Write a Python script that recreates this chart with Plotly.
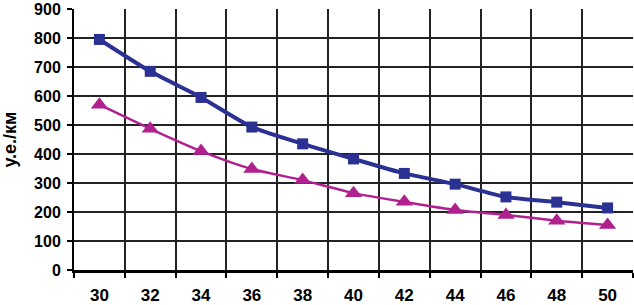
import plotly.graph_objects as go

categories = ["30", "32", "34", "36", "38", "40", "42", "44", "46", "48", "50"]
series_blue = [795, 685, 595, 493, 435, 383, 333, 296, 252, 234, 214]
series_magenta = [570, 487, 410, 348, 310, 265, 235, 207, 190, 170, 155]
y_ticks = [0, 100, 200, 300, 400, 500, 600, 700, 800, 900]

fig = go.Figure()
fig.add_trace(go.Scatter(
    x=categories, y=series_blue, mode="lines+markers",
    line=dict(color="#2B3192", width=4, shape="spline", smoothing=0.6),
    marker=dict(symbol="square", size=11, color="#2B3192"),
))
fig.add_trace(go.Scatter(
    x=categories, y=series_magenta, mode="lines+markers",
    line=dict(color="#B0218F", width=2.5, shape="spline", smoothing=0.6),
    marker=dict(symbol="triangle-up", size=15, color="#B0218F"),
))

FAM = "Liberation Sans, Arial, sans-serif"
tf = dict(family=FAM, size=17, color="#000000", weight="bold")
yf = dict(family=FAM, size=16, color="#000000", weight="bold")
fig.update_layout(
    width=634, height=305,
    margin=dict(l=74, r=1, t=9, b=35),
    paper_bgcolor="white", plot_bgcolor="white",
    showlegend=False,
    font=dict(family=FAM, size=17, color="#000000"),
)
fig.update_xaxes(
    type="category", tickson="boundaries", showgrid=True, gridcolor="#222222", gridwidth=1.5,
    ticks="outside", ticklen=5, tickcolor="#000000", tickwidth=1.5,
    showline=True, linecolor="#000000", linewidth=2.5,
    tickfont=tf, ticklabeloverflow="allow", automargin=False, ticklabelstandoff=8,
    range=[-0.5, 10.5], fixedrange=True,
)
fig.update_yaxes(
    range=[0, 900], tickvals=y_ticks, showgrid=True, gridcolor="#222222", gridwidth=1.5,
    ticks="outside", ticklen=5, tickcolor="#000000", tickwidth=1.5,
    showline=True, linecolor="#000000", linewidth=2,
    zeroline=False, automargin=False,
    tickfont=yf, ticklabeloverflow="allow", ticklabelstandoff=3,
    title=dict(text="у.е./км", font=dict(family=FAM, size=18, color="#000000", weight="bold"), standoff=13),
)

fig.write_html(
    "out.html",
    config={"displayModeBar": False},
    post_script="document.body.style.margin='0';document.body.style.overflow='hidden';",
)
